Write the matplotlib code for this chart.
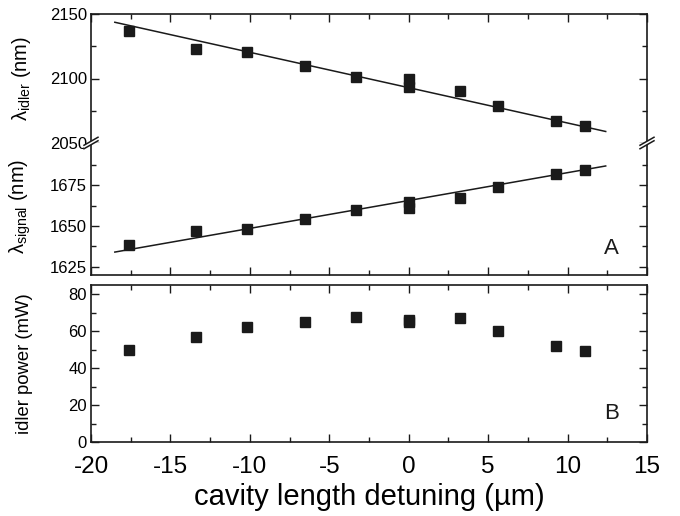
import numpy as np
import matplotlib.pyplot as plt
from matplotlib.ticker import MultipleLocator, FixedLocator

plt.rcParams['font.family'] = ['Liberation Sans', 'DejaVu Sans']
plt.rcParams['mathtext.fontset'] = 'custom'
plt.rcParams['mathtext.rm'] = 'Liberation Sans'

# %% DATA
detuning = [-17.6, -13.4, -10.2, -6.5, -3.3, 0.0, 0.0, 3.25, 5.6, 9.3, 11.1]
idler_nm = [2136.8, 2122.6, 2120.3, 2110.0, 2101.4, 2099.4, 2093.7, 2090.3, 2078.7, 2067.3, 2063.4]
signal_nm = [1638.3, 1646.7, 1648.1, 1654.3, 1659.9, 1661.0, 1664.6, 1667.1, 1674.3, 1681.7, 1684.2]
idler_power = [50.0, 57.1, 62.4, 64.8, 67.8, 66.3, 64.8, 67.1, 60.2, 51.9, 49.3]
# linear fits as drawn in the figure: (slope nm/um, value at 0 um)
idler_fit = (-2.74, 2092.9)
signal_fit = (1.71, 1665.7)
fit_range = [-18.5, 12.4]

ink = '#1a1a1a'
mk = dict(marker='s', ms=7, color=ink, ls='none')

fig = plt.figure(figsize=(6.8, 5.16), dpi=100)
L, W = 91 / 680, 556 / 680


def fy(px):
    return 1 - px / 516


ax_i = fig.add_axes([L, fy(143), W, fy(14) - fy(143)])
ax_s = fig.add_axes([L, fy(275), W, fy(143) - fy(275)])
ax_p = fig.add_axes([L, fy(442), W, fy(285) - fy(442)])

xf = np.array(fit_range)
ax_i.plot(detuning, idler_nm, **mk)
ax_i.plot(xf, np.polyval(idler_fit, xf), color=ink, lw=1.1)
ax_s.plot(detuning, signal_nm, **mk)
ax_s.plot(xf, np.polyval(signal_fit, xf), color=ink, lw=1.1)
ax_p.plot(detuning, idler_power, **mk)

ax_i.set_ylim(2050, 2150)
ax_s.set_ylim(1620, 1701)
ax_p.set_ylim(0, 85)

ax_i.yaxis.set_major_locator(MultipleLocator(50))
ax_i.yaxis.set_minor_locator(MultipleLocator(25))
ax_s.yaxis.set_major_locator(FixedLocator([1625, 1650, 1675]))
ax_s.yaxis.set_minor_locator(FixedLocator([1637.5, 1662.5, 1687.5]))
ax_p.yaxis.set_major_locator(MultipleLocator(20))
ax_p.yaxis.set_minor_locator(MultipleLocator(10))

for ax in (ax_i, ax_s, ax_p):
    ax.set_xlim(-20, 15)
    ax.xaxis.set_major_locator(MultipleLocator(5))
    ax.xaxis.set_minor_locator(MultipleLocator(2.5))
    ax.tick_params(which='both', direction='in', right=True, top=True, color=ink, width=1)
    ax.tick_params(which='major', length=6)
    ax.tick_params(which='minor', length=3.5)
    ax.tick_params(axis='y', labelsize=12, pad=3)
    for s in ax.spines.values():
        s.set_linewidth(1.2)
        s.set_color(ink)

ax_i.spines['bottom'].set_visible(False)
ax_s.spines['top'].set_visible(False)
ax_i.tick_params(which='both', bottom=False, labelbottom=False)
ax_s.tick_params(which='both', top=False, labelbottom=False)
ax_p.tick_params(axis='x', labelsize=17.5, pad=10)
ax_p.set_xticks([-20, -15, -10, -5, 0, 5, 10, 15])
ax_p.set_xticklabels(['-20', '-15', '-10', '-5', '0', '5', '10', '15'])

ax_i.set_ylabel(r'λ$_\mathregular{idler}$ (nm)', fontsize=14.5)
ax_i.yaxis.set_label_coords(-0.104, 0.5)
ax_s.set_ylabel(r'λ$_\mathregular{signal}$ (nm)', fontsize=14.5)
ax_s.yaxis.set_label_coords(-0.104, 0.52)
ax_p.set_ylabel('idler power (mW)', fontsize=13.3)
ax_p.yaxis.set_label_coords(-0.104, 0.5)
ax_p.set_xlabel('cavity length detuning (\u00b5m)', fontsize=21, labelpad=4)

ax_s.text(0.95, 0.2, 'A', transform=ax_s.transAxes, fontsize=16, ha='right', va='center', color=ink)
ax_p.text(0.95, 0.18, 'B', transform=ax_p.transAxes, fontsize=16, ha='right', va='center', color=ink)

# axis break marks on both spines
yb = fy(143)
for x0 in (L, L + W):
    dx, dy, gap = 7 / 680, 4 / 516, 3.5 / 516
    fig.patches.append(plt.Polygon([[x0 - dx, yb - dy - gap / 2], [x0 + dx, yb + dy - gap / 2],
                                    [x0 + dx, yb + dy + gap / 2], [x0 - dx, yb - dy + gap / 2]],
                                   closed=True, transform=fig.transFigure, facecolor='white',
                                   edgecolor='none', zorder=5))
    for off in (-gap / 2, gap / 2):
        fig.lines.append(plt.Line2D([x0 - dx, x0 + dx], [yb - dy + off, yb + dy + off],
                                    transform=fig.transFigure, color=ink, lw=1.1, zorder=6))

fig.savefig('out.png', dpi=100)
